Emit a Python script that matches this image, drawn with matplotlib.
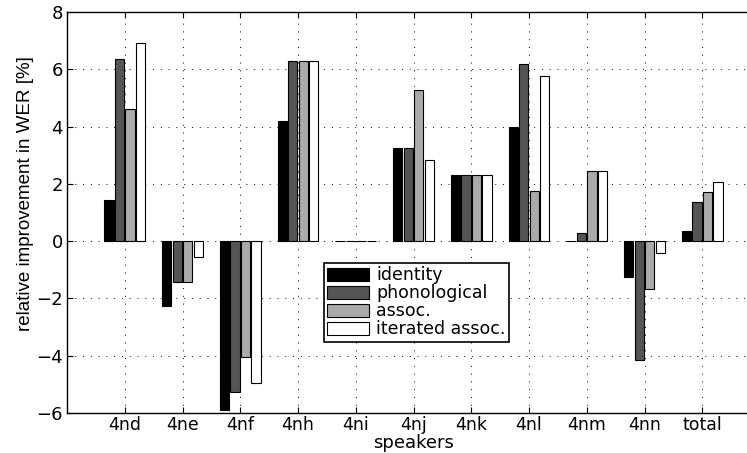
import matplotlib
matplotlib.use("Agg")
import matplotlib.pyplot as plt
import numpy as np

# speakers and relative WER improvement [%] per method
speakers = ["4nd", "4ne", "4nf", "4nh", "4ni", "4nj", "4nk", "4nl", "4nm", "4nn", "total"]
identity = [1.44, -2.26, -5.91, 4.18, 0.02, 3.25, 2.30, 3.99, 0.02, -1.26, 0.35]
phonological = [6.35, -1.41, -5.28, 6.28, 0.02, 3.25, 2.30, 6.18, 0.27, -4.14, 1.37]
assoc = [4.63, -1.41, -4.03, 6.28, 0.02, 5.28, 2.30, 1.76, 2.44, -1.67, 1.71]
iterated = [6.93, -0.56, -4.97, 6.28, 0.02, 2.83, 2.30, 5.75, 2.44, -0.43, 2.05]

series = [identity, phonological, assoc, iterated]
labels = ["identity", "phonological", "assoc.", "iterated assoc."]
colors = ["black", "#555555", "#aaaaaa", "white"]

plt.rcParams['font.family'] = ['DejaVu Sans']

fig = plt.figure(figsize=(7.47, 4.53), dpi=100)
ax = fig.add_axes([67/747, 40/453, 693/747, 401/453])

x = np.arange(1, len(speakers) + 1)
pitch = 0.182
width = 0.162
for i, (vals, lab, col) in enumerate(zip(series, labels, colors)):
    ax.bar(x + (i - 1.5) * pitch, vals, width, color=col, edgecolor='black',
           linewidth=0.8, label=lab, zorder=3)

ax.set_xlim(0, 12)
ax.set_ylim(-6, 8)
ax.set_xticks(x)
ax.set_xticklabels(speakers, fontsize=12.5)
ax.set_yticks(np.arange(-6, 9, 2))
ax.set_yticklabels([str(v).replace('-', '\u2212') for v in range(-6, 9, 2)], fontsize=13)
ax.tick_params(direction='in', top=True, right=True, length=4, width=0.8, pad=3)
ax.tick_params(axis='x', pad=2)
ax.grid(True, linestyle=(0, (1, 7)), color='black', linewidth=0.7, zorder=0)
ax.set_axisbelow(True)
for s in ax.spines.values():
    s.set_linewidth(1.0)

ax.set_xlabel("speakers", fontsize=13, labelpad=0)
ax.set_ylabel("relative improvement in WER [%]", fontsize=13.5,
              family='Liberation Sans')
ax.yaxis.set_label_coords(-0.047, 0.546)

leg = ax.legend(loc='upper left', bbox_to_anchor=(257/693, (413-263)/401), fontsize=12.5,
                frameon=True, fancybox=False, edgecolor='black', framealpha=1,
                borderpad=0.2, labelspacing=0.0, handlelength=2.4, handleheight=0.8,
                handletextpad=0.4, borderaxespad=0)
leg.get_frame().set_linewidth(1.2)

fig.savefig("out.png", dpi=100)
